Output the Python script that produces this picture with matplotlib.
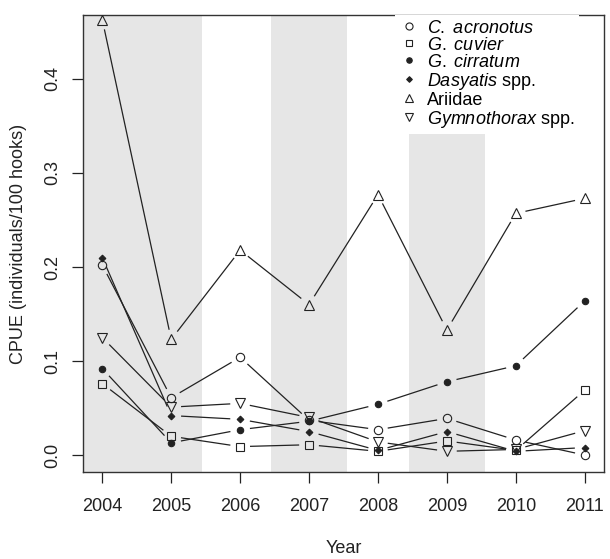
import matplotlib.pyplot as plt
import numpy as np
from matplotlib.lines import Line2D

plt.rcParams['font.family'] = ['Liberation Sans', 'DejaVu Sans']
plt.rcParams['mathtext.fontset'] = 'custom'
plt.rcParams['mathtext.rm'] = 'Liberation Sans'
plt.rcParams['mathtext.it'] = 'Liberation Sans:italic'

# CPUE (individuals/100 hooks) per year
years = [2004, 2005, 2006, 2007, 2008, 2009, 2010, 2011]
c_acronotus = [0.202, 0.061, 0.104, 0.037, 0.027, 0.039, 0.016, 0.000]
g_cuvier = [0.076, 0.020, 0.009, 0.011, 0.004, 0.015, 0.005, 0.069]
g_cirratum = [0.092, 0.013, 0.027, 0.036, 0.054, 0.078, 0.095, 0.164]
dasyatis = [0.210, 0.042, 0.038, 0.025, 0.005, 0.025, 0.004, 0.008]
ariidae = [0.463, 0.123, 0.218, 0.160, 0.277, 0.133, 0.257, 0.273]
gymnothorax = [0.125, 0.051, 0.055, 0.040, 0.014, 0.004, 0.006, 0.026]

labels = [r"$\it{C.\ acronotus}$", r"$\it{G.\ cuvier}$", r"$\it{G.\ cirratum}$",
          r"$\it{Dasyatis}$ spp.", "Ariidae", r"$\it{Gymnothorax}$ spp."]

# shaded periods (year ranges)
shade_start = [2003.5, 2006.45, 2008.45]
shade_end = [2005.45, 2007.55, 2009.55]

# marker styles: (marker, size, filled)
styles = [('o', 6.0, False), ('s', 5.2, False), ('o', 4.6, True),
          ('D', 3.4, True), ('^', 6.8, False), ('v', 6.8, False)]

INK = '#222222'
GAP_PX = 10.5


def draw_gapped(ax, x, y, gap):
    """Draw R-style type='b' lines: segments stop short of each point."""
    pts = ax.transData.transform(np.column_stack([x, y]))
    inv = ax.transData.inverted()
    for p0, p1 in zip(pts[:-1], pts[1:]):
        d = p1 - p0
        length = np.hypot(d[0], d[1])
        if length <= 2 * gap:
            continue
        u = d / length
        a = inv.transform(p0 + u * gap)
        b = inv.transform(p1 - u * gap)
        ax.plot([a[0], b[0]], [a[1], b[1]], color=INK, lw=0.9, zorder=2)


fig = plt.figure(figsize=(6.10, 5.59), dpi=100)
ax = fig.add_axes([83 / 610, 1 - 472 / 559, 521 / 610, 457 / 559])
ax.set_xlim(2003.72, 2011.28)
ax.set_ylim(-0.018, 0.468)

for s, e in zip(shade_start, shade_end):
    ax.axvspan(s, e, color='#e6e6e6', lw=0, zorder=0)

all_series = [c_acronotus, g_cuvier, g_cirratum, dasyatis, ariidae, gymnothorax]
handles = []
for vals, lab, (mk, ms, filled) in zip(all_series, labels, styles):
    draw_gapped(ax, years, vals, GAP_PX)
    fc = INK if filled else 'none'
    ax.plot(years, vals, linestyle='none', marker=mk, markersize=ms,
            markerfacecolor=fc, markeredgecolor=INK, markeredgewidth=0.8, zorder=3)
    handles.append(Line2D([], [], linestyle='none', marker=mk, markersize=ms * 0.85,
                          markerfacecolor=fc, markeredgecolor=INK, markeredgewidth=0.8,
                          label=lab))

leg = ax.legend(handles=handles, loc='upper left', bbox_to_anchor=(0.599, 1.0),
                borderaxespad=0, borderpad=0.25, handlelength=1.0, handletextpad=0.5,
                labelspacing=0.0, fontsize=13, frameon=True, fancybox=False,
                framealpha=1, facecolor='white', edgecolor='none')
leg.set_zorder(4)

ax.set_xticks(years)
ax.set_xticklabels([str(y) for y in years], fontsize=13, color=INK)
yt = [0.0, 0.1, 0.2, 0.3, 0.4]
ax.set_yticks(yt)
ax.set_yticklabels([f"{v:.1f}" for v in yt], fontsize=13, rotation=90, va='center', color=INK)
ax.tick_params(axis='x', direction='out', length=8, width=0.9, color=INK, pad=11)
ax.tick_params(axis='y', direction='out', length=8, width=0.9, color=INK, pad=8)
for sp in ax.spines.values():
    sp.set_color('#333333')
    sp.set_linewidth(1.0)

ax.set_xlabel("Year", fontsize=13, color=INK)
ax.set_ylabel("CPUE (individuals/100 hooks)", fontsize=13, color=INK)
ax.xaxis.set_label_coords(0.5, -0.149)
ax.yaxis.set_label_coords(-0.108, 0.5)

fig.savefig("out.png", dpi=100)
